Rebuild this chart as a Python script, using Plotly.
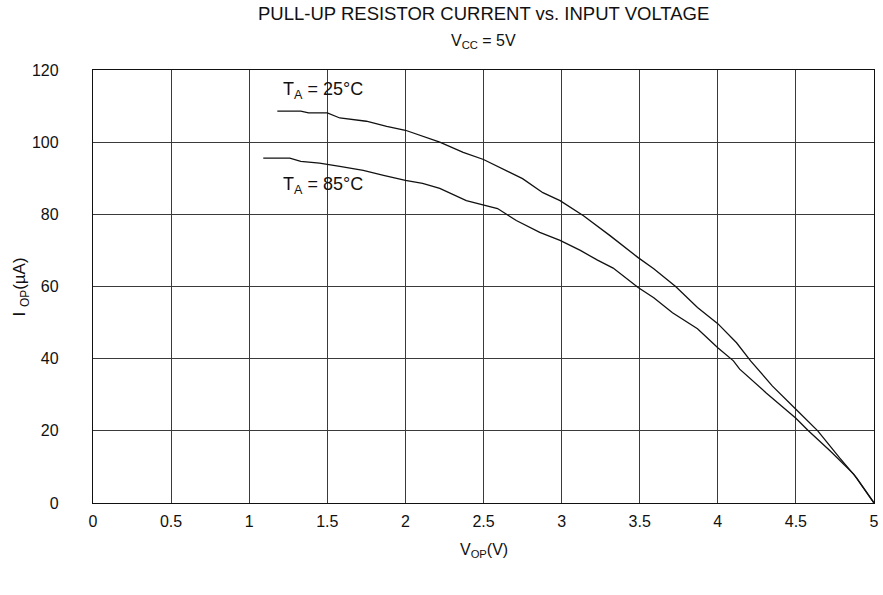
import plotly.graph_objects as go

# V_OP (V) vs I_OP (uA)
v_25 = [1.18, 1.33, 1.38, 1.50, 1.58, 1.75, 1.88, 2.00, 2.22, 2.37, 2.50, 2.65, 2.75, 2.88,
        2.99, 3.14, 3.31, 3.49, 3.59, 3.73, 3.87, 4.00, 4.12, 4.21, 4.35, 4.50, 4.64, 4.78,
        4.89, 5.00]
i_25 = [108.6, 108.6, 108.1, 108.1, 106.7, 105.8, 104.4, 103.3, 100.0, 97.2, 95.2, 92.1,
        89.9, 86.0, 83.8, 79.6, 74.1, 68.0, 64.9, 60.0, 54.2, 49.7, 44.4, 39.4, 32.4, 26.0,
        20.0, 12.5, 6.9, 0.0]

v_85 = [1.09, 1.26, 1.33, 1.45, 1.58, 1.73, 1.86, 2.00, 2.11, 2.22, 2.39, 2.50, 2.59, 2.71,
        2.86, 2.99, 3.12, 3.23, 3.33, 3.49, 3.59, 3.71, 3.87, 4.00, 4.10, 4.14, 4.31, 4.50,
        4.58, 4.72, 4.87, 5.00]
i_85 = [95.6, 95.6, 94.7, 94.2, 93.3, 92.2, 90.8, 89.4, 88.6, 87.2, 83.8, 82.7, 81.6, 78.3,
        75.0, 72.8, 70.0, 67.3, 65.1, 59.7, 56.9, 52.7, 48.3, 43.0, 39.4, 37.1, 30.5, 23.5,
        20.0, 14.4, 8.0, 0.0]

x_ticks = [0, 0.5, 1, 1.5, 2, 2.5, 3, 3.5, 4, 4.5, 5]
y_ticks = [0, 20, 40, 60, 80, 100, 120]

FONT = "Liberation Sans, Arial, sans-serif"

fig = go.Figure()
fig.add_trace(go.Scatter(x=v_25, y=i_25, mode="lines", line=dict(color="#111", width=1.3),
                         showlegend=False, hoverinfo="skip"))
fig.add_trace(go.Scatter(x=v_85, y=i_85, mode="lines", line=dict(color="#111", width=1.3),
                         showlegend=False, hoverinfo="skip"))

axis_common = dict(
    showgrid=True, gridcolor="#3a3a3a", gridwidth=1.2,
    showline=True, linecolor="#111", linewidth=1.3, mirror=True,
    zeroline=False, ticks="", automargin=False,
    tickfont=dict(size=16, color="#111", family=FONT),
)
fig.update_xaxes(range=[0, 5], tickvals=x_ticks, ticktext=[str(t) for t in x_ticks],
                 ticklabelstandoff=4, **axis_common)
fig.update_yaxes(range=[0, 120], tickvals=y_ticks, ticklabelstandoff=30, **axis_common)

fig.add_annotation(text="PULL-UP RESISTOR CURRENT vs. INPUT VOLTAGE", xref="paper", yref="paper",
                   x=0.5, y=1, yshift=69, showarrow=False, font=dict(size=18.5, color="#111"))
fig.add_annotation(text="V<sub>CC</sub> = 5V", xref="paper", yref="paper",
                   x=0.5, y=1, yshift=40, showarrow=False, font=dict(size=16, color="#111"))
fig.add_annotation(text="T<sub>A</sub> = 25°C", x=1.47, y=114.2, showarrow=False,
                   font=dict(size=18, color="#111"))
fig.add_annotation(text="T<sub>A</sub> = 85°C", x=1.47, y=88.0, showarrow=False,
                   font=dict(size=18, color="#111"))
fig.add_annotation(text="V<sub>OP</sub>(V)", xref="paper", yref="paper",
                   x=0.5, y=-0.137, showarrow=False, font=dict(size=16, color="#111"))
fig.add_annotation(text="I <sub>OP</sub>(µA)", xref="paper", yref="paper", textangle=-90,
                   x=-0.0935, xshift=-12, y=0.5, showarrow=False, font=dict(size=17, color="#111"))

fig.update_layout(
    width=883, height=595,
    margin=dict(l=93, r=9, t=70, b=92, autoexpand=False),
    paper_bgcolor="white", plot_bgcolor="white",
    font=dict(family=FONT, color="#111"),
)

fig.write_html("out.html", config={"displayModeBar": False},
               post_script="document.body.style.margin='0';")
